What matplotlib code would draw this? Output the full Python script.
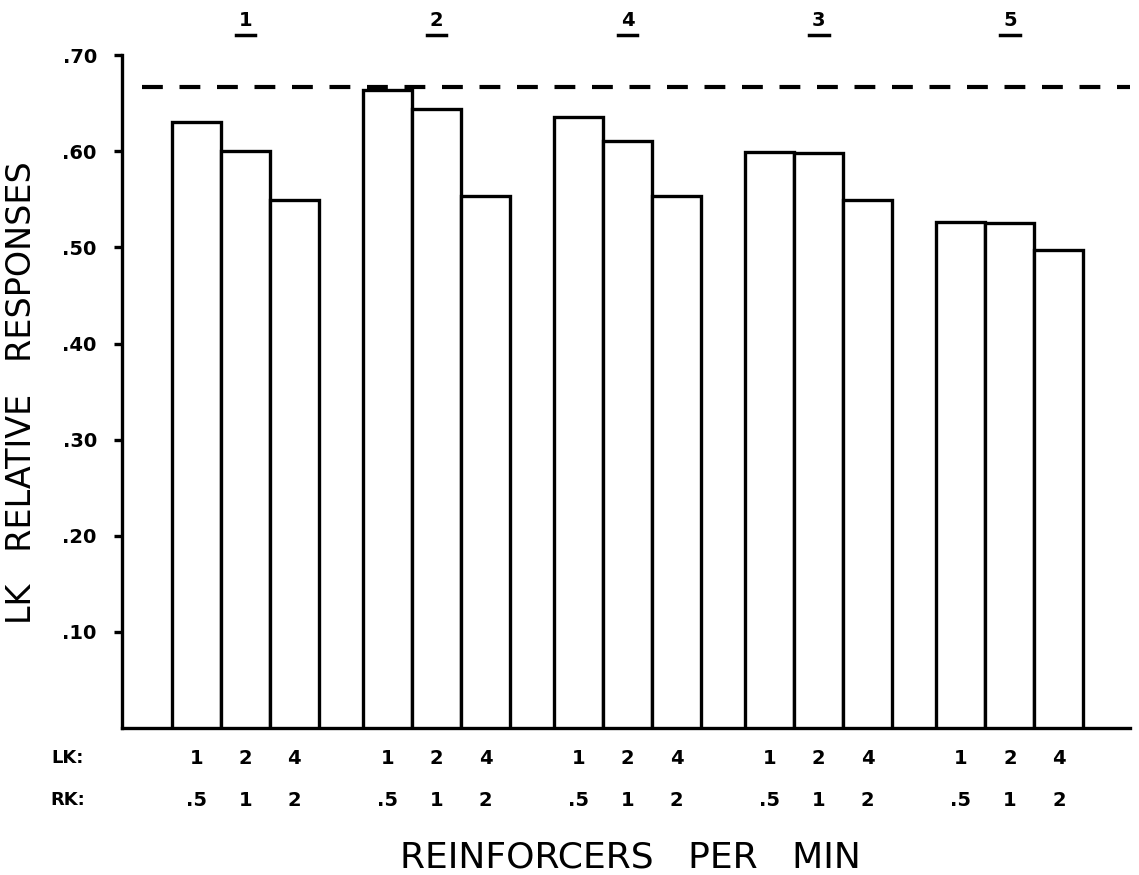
import numpy as np
import matplotlib.pyplot as plt
from matplotlib.transforms import blended_transform_factory

# group order as drawn, left to right
groups = ['1', '2', '4', '3', '5']
lk_labels = ['1', '2', '4']
rk_labels = ['.5', '1', '2']
values = [
    [0.630, 0.600, 0.549],
    [0.664, 0.644, 0.553],
    [0.636, 0.611, 0.553],
    [0.599, 0.598, 0.549],
    [0.526, 0.525, 0.497],
]
reference_line = 0.667
yticks = [0.10, 0.20, 0.30, 0.40, 0.50, 0.60, 0.70]
ytick_labels = ['.10', '.20', '.30', '.40', '.50', '.60', '.70']

group_step = 3.9  # in bar widths
lw = 2.4

fig = plt.figure(figsize=(11.39, 8.75), dpi=100)
ax = fig.add_axes([0.107, 0.168, 0.885, 0.769])

for g, vals in enumerate(values):
    xs = g * group_step + np.arange(3) + 0.5
    ax.bar(xs, vals, width=1.0, facecolor='white', edgecolor='black',
           linewidth=lw, zorder=3)

ax.axhline(reference_line, xmin=0.02, color='black', linewidth=3,
           linestyle=(0, (5, 4)), zorder=2)

ax.set_xlim(-1.02, 19.55)
ax.set_ylim(0, 0.70)

for s in ['top', 'right']:
    ax.spines[s].set_visible(False)
ax.spines['left'].set_linewidth(lw)
ax.spines['bottom'].set_linewidth(lw)
ax.set_xticks([])
ax.set_yticks(yticks)
ax.set_yticklabels(ytick_labels, fontsize=14, fontweight='bold')
ax.tick_params(axis='y', direction='out', length=6, width=lw, pad=12)

trans = blended_transform_factory(ax.transData, fig.transFigure)
fig.text(68 / 1139, 1 - 758 / 875, 'LK:', fontsize=13, fontweight='bold',
         ha='center', va='center')
fig.text(68 / 1139, 1 - 800 / 875, 'RK:', fontsize=13, fontweight='bold',
         ha='center', va='center')

for g, name in enumerate(groups):
    xs = g * group_step + np.arange(3) + 0.5
    for i in range(3):
        ax.text(xs[i], 1 - 758 / 875, lk_labels[i], transform=trans,
                fontsize=14, fontweight='bold', ha='center', va='center')
        ax.text(xs[i], 1 - 800 / 875, rk_labels[i], transform=trans,
                fontsize=14, fontweight='bold', ha='center', va='center')
    cx = xs[1]
    ax.text(cx, 1 - 21 / 875, name, transform=trans, fontsize=14,
            fontweight='bold', ha='center', va='center')
    ax.plot([cx - 0.2, cx + 0.2], [1 - 35 / 875, 1 - 35 / 875],
            transform=trans, color='black', linewidth=2.5, clip_on=False)

fig.text(630 / 1139, 1 - 858 / 875, 'REINFORCERS   PER   MIN', fontsize=26,
         ha='center', va='center')
fig.text(22 / 1139, 1 - 393 / 875, 'LK   RELATIVE   RESPONSES', fontsize=24,
         rotation=90, ha='center', va='center')

fig.savefig('out.png', dpi=100)
